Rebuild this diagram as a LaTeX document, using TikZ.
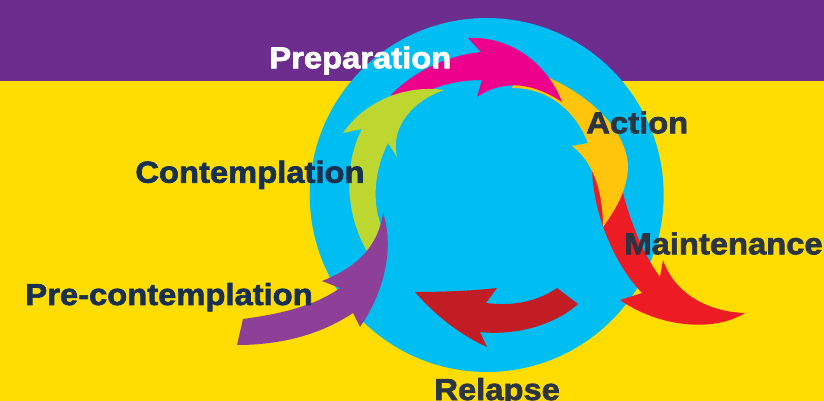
\documentclass[tikz,border=0pt]{standalone}
\usepackage{fontspec}
\newfontfamily\stagefont{Liberation Sans}[UprightFont={* Bold},FakeStretch=1.08,FakeBold=2.2]
\definecolor{bgyellow}{HTML}{FFDD00}
\definecolor{bandpurple}{HTML}{6D2D8F}
\definecolor{ringblue}{HTML}{00BEF2}
\definecolor{precpurple}{HTML}{8E3F98}
\definecolor{contgreen}{HTML}{BED630}
\definecolor{prepmagenta}{HTML}{EC008C}
\definecolor{actionorange}{HTML}{FFC40C}
\definecolor{maintred}{HTML}{ED1C24}
\definecolor{relapsered}{HTML}{C21D25}
\definecolor{textnavy}{HTML}{17304F}
\definecolor{textslate}{HTML}{2B3441}
\tikzset{stagelabel/.style={font=\stagefont\fontsize{17.25}{20}\selectfont,inner sep=0pt,anchor=base west}}
\begin{document}
\begin{tikzpicture}[x=0.02cm,y=-0.02cm]
\useasboundingbox (0,0) rectangle (824,401);
% background
\fill[bgyellow] (0,0) rectangle (824,401);
\fill[bandpurple] (0,0) rectangle (824,80.7);
\fill[ringblue] (486.7,195) circle[radius=3.54cm];
% maintenance
\fill[maintred] (592,168) -- (615,158)
  .. controls (625,210) and (640,250) .. (660,277) -- (663,260)
  .. controls (675,295) and (710,312) .. (745,313)
  .. controls (715,332) and (660,328) .. (620,300) -- (642,293)
  .. controls (615,265) and (593,215) .. (592,168) -- cycle;
% action
\fill[actionorange] (512,88) -- (520,68)
  .. controls (570,80) and (625,120) .. (628,165)
  .. controls (628,190) and (615,210) .. (603,227)
  .. controls (603,195) and (595,163) .. (572,146) -- (588,143)
  .. controls (575,110) and (548,88) .. (512,88) -- cycle;
% preparation
\fill[prepmagenta] (402,104) -- (391,95)
  .. controls (415,70) and (450,55) .. (481,52) -- (468,38)
  .. controls (505,36) and (545,58) .. (562,102)
  .. controls (535,84) and (505,78) .. (477,97) -- (482,80)
  .. controls (450,80) and (425,90) .. (402,104) -- cycle;
% contemplation
\fill[contgreen] (370,256)
  .. controls (345,218) and (343,165) .. (362,129) -- (343,133)
  .. controls (362,105) and (400,84) .. (444,90)
  .. controls (415,100) and (390,125) .. (397,157) -- (388,143)
  .. controls (372,175) and (371,212) .. (388,240) -- cycle;
% pre-contemplation
\fill[precpurple] (237,345) -- (243,319)
  .. controls (280,314) and (315,306) .. (340,288) -- (322,281)
  .. controls (355,268) and (378,248) .. (383,213)
  .. controls (394,245) and (386,290) .. (360,327) -- (353,313)
  .. controls (320,335) and (280,345) .. (237,345) -- cycle;
% relapse
\fill[relapsered] (557,288)
  .. controls (535,303) and (510,306) .. (486,303) -- (497,288)
  .. controls (470,291) and (440,292) .. (415,292)
  .. controls (435,315) and (460,335) .. (487,347) -- (480,332)
  .. controls (515,336) and (555,325) .. (578,304) -- cycle;
% labels
\node[stagelabel,text=white] (prep) at (269,68.3) {Preparation};
\node[stagelabel,text=textnavy] (cont) at (135,182.7) {Contemplation};
\node[stagelabel,text=textnavy] (precont) at (25,305) {Pre-contemplation};
\node[stagelabel,text=textslate] (act) at (586,133.3) {Action};
\node[stagelabel,text=textslate] (maint) at (624,254.3) {Maintenance};
\node[stagelabel,text=textslate] (rel) at (434,400) {Relapse};
\end{tikzpicture}
\end{document}
